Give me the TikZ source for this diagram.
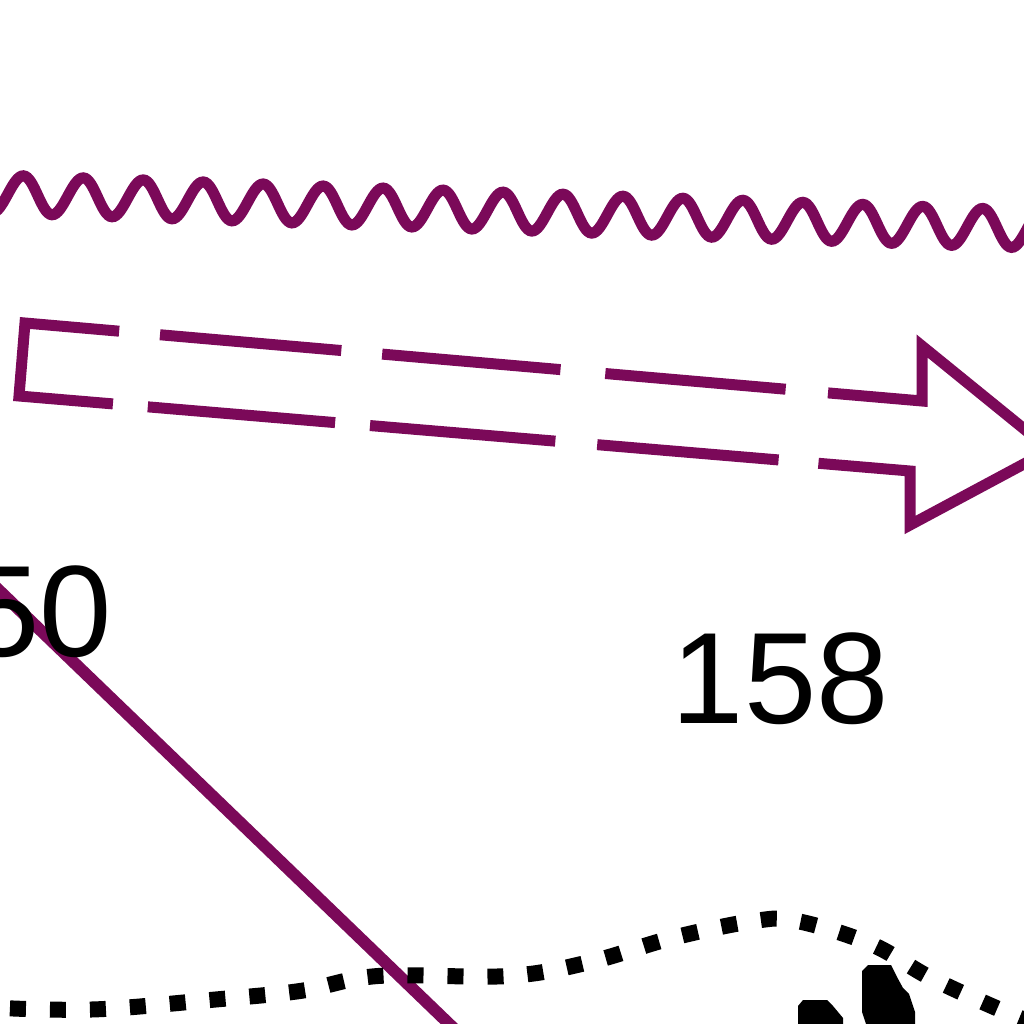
\documentclass[tikz,border=0pt]{standalone}
\usepackage{fontspec}
\setmainfont{Liberation Sans}
\usetikzlibrary{decorations.pathmorphing}
\definecolor{plum}{RGB}{123,9,89}
\begin{document}
\begin{tikzpicture}[x=1pt, y=-1pt]
\useasboundingbox (0,0) rectangle (1024,1024);
\clip (0,0) rectangle (1024,1024);
\tikzset{wave/.style={draw=plum, line width=11pt, decorate, decoration={snake, segment length=60pt, amplitude=19pt}},
    hollow/.style={draw=plum, line width=11pt, line join=miter},
    rod/.style={draw=plum, line width=12pt},
    dots/.style={draw=black, line width=16pt, dash pattern=on 16pt off 24pt},
    num/.style={font=\fontsize{130}{130}\selectfont, inner sep=0pt, text=black}}
% wavy line
\draw[wave] (-56,192.1) -- (1084,230.9);
% hollow arrow
\coordinate (p) at (828,392.9);
\coordinate (a1) at (922,401);
\coordinate (a2) at (922,346);
\coordinate (tip) at (1050,450);
\coordinate (a3) at (910,525);
\coordinate (a4) at (910,471);
\coordinate (a5) at (19,396);
\coordinate (a6) at (25,323);
\draw[hollow, dash pattern=on 619pt off 40pt on 182pt off 42pt on 186pt off 35pt on 188pt off 35pt on 262pt off 41pt on 182pt off 41pt on 179pt off 45pt on 181pt off 43pt]
    (p) -- (a1) -- (a2) -- (tip) -- (a3) -- (a4) -- (a5) -- (a6) -- cycle;
% straight line and labels
\draw[rod] (-20,572) -- (470,1044);
\node[num, anchor=base east] (n50) at (112,656) {50};
\node[num, anchor=base east] (n158) at (889,723) {158};
% dotted curve
\draw[dots] plot[smooth, tension=0.6] coordinates {(-30,1006) (28,1009) (104,1009) (210,1000) (300,991) (378,976) (508,976) (590,962) (672,938) (754,921) (797,921) (871,944) (929,977) (994,1007) (1050,1030)};
\fill (868,965) -- (891,965) -- (897,977) -- (903,988) -- (909,994) -- (915,1012) -- (915,1030) -- (868,1030) -- (862,1012) -- (862,971) -- cycle;
\fill (803,1000) -- (827,1000) -- (833,1006) -- (838,1012) -- (843,1018) -- (843,1030) -- (798,1030) -- (798,1006) -- cycle;
\end{tikzpicture}
\end{document}
